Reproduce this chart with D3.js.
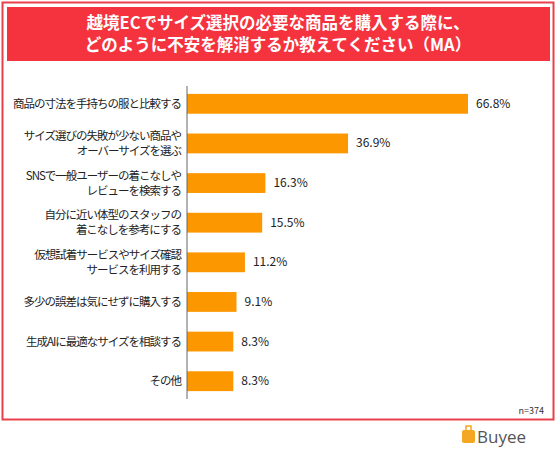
<!DOCTYPE html><html><head><meta charset="utf-8"><script src="https://cdn.jsdelivr.net/npm/d3@7"></script>
<style>body{margin:0;background:#fff}</style></head><body><svg id="c" width="557" height="450"></svg>
<script>
const categories=[["商品の寸法を手持ちの服と比較する"],["サイズ選びの失敗が少ない商品や","オーバーサイズを選ぶ"],["SNSで一般ユーザーの着こなしや","レビューを検索する"],["自分に近い体型のスタッフの","着こなしを参考にする"],["仮想試着サービスやサイズ確認","サービスを利用する"],["多少の誤差は気にせずに購入する"],["生成AIに最適なサイズを相談する"],["その他"]];
const values=[66.8,36.9,16.3,15.5,11.2,9.1,8.3,8.3];
const titleLines=["越境ECでサイズ選択の必要な商品を購入する際に、","どのように不安を解消するか教えてください（MA）"];
const svg=d3.select("#c");
const F="'Noto Sans CJK JP',sans-serif";
svg.append("rect").attr("x",2.5).attr("y",2.5).attr("width",551).attr("height",417).attr("fill","#fff").attr("stroke","#e8404a").attr("stroke-width",2);
svg.append("rect").attr("x",7).attr("y",7).attr("width",543).attr("height",54).attr("fill","#f5333f");
svg.selectAll(".t").data(titleLines).join("text").attr("x",278).attr("y",(d,i)=>29+i*22).attr("text-anchor","middle").attr("fill","#fff").attr("font-family",F).attr("font-weight","bold").attr("font-size",16.5).text(d=>d);
const x0=187;
const x=d3.scaleLinear().domain([0,66.8]).range([200,468]);
const y=d3.scaleBand().domain(d3.range(values.length)).range([84,401]).paddingInner(0.5).paddingOuter(0.25);
svg.selectAll(".b").data(values).join("rect").attr("x",x0).attr("y",(d,i)=>y(i)).attr("width",d=>x(d)-x0).attr("height",y.bandwidth()).attr("fill","#fc9700");
svg.append("line").attr("x1",x0).attr("x2",x0).attr("y1",86).attr("y2",399).attr("stroke","#666").attr("stroke-width",1);
svg.selectAll(".v").data(values).join("text").attr("x",d=>x(d)+8).attr("y",(d,i)=>y(i)+y.bandwidth()/2+4).attr("font-family",F).attr("font-size",12).attr("fill","#222").text(d=>d.toFixed(1)+"%");
categories.forEach((lines,i)=>{const cy=y(i)+y.bandwidth()/2;lines.forEach((l,j)=>{svg.append("text").attr("x",181).attr("y",cy+4+(j-(lines.length-1)/2)*15).attr("text-anchor","end").attr("font-family",F).attr("font-size",11.5).attr("letter-spacing",-1).attr("fill","#222").text(l);});});
svg.append("text").attr("x",544).attr("y",414).attr("text-anchor","end").attr("font-family",F).attr("font-size",9).attr("fill","#333").text("n=374");
const g=svg.append("g");
g.append("rect").attr("x",462).attr("y",430).attr("width",13).attr("height",13).attr("rx",2).attr("fill","#f5a623");
g.append("rect").attr("x",466).attr("y",426).attr("width",5).attr("height",5).attr("fill","none").attr("stroke","#f5a623").attr("stroke-width",1.5);
g.append("text").attr("x",477).attr("y",443).attr("font-family","'Open Sans',sans-serif").attr("font-size",17).attr("fill","#555").text("Buyee");
</script></body></html>
